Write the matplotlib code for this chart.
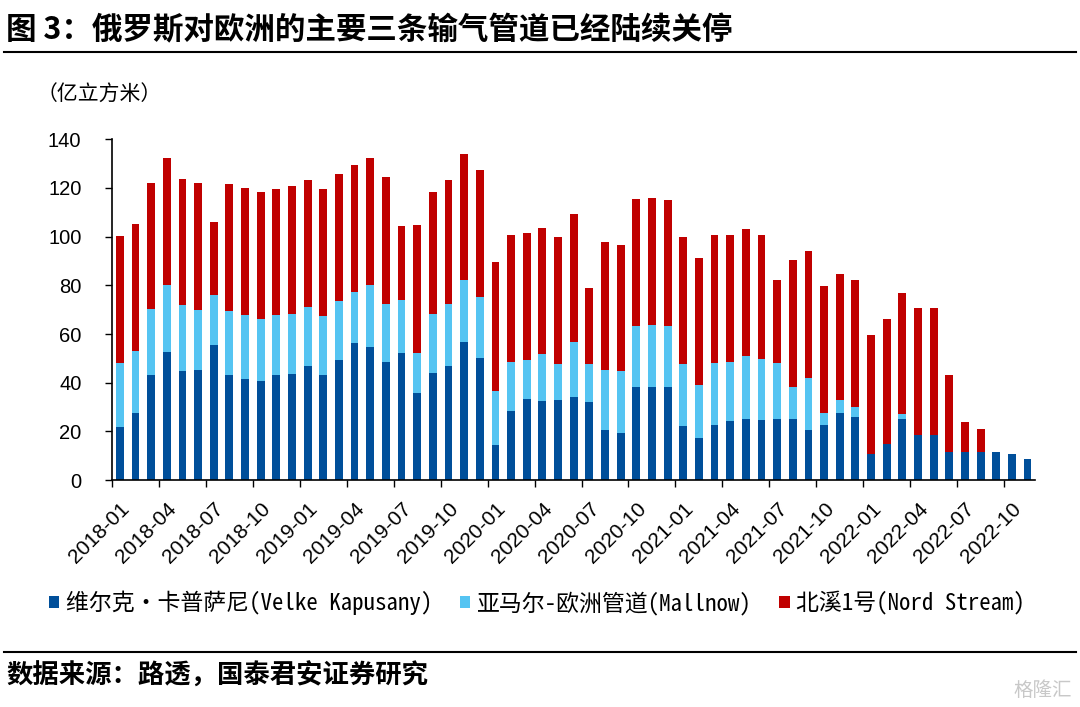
import matplotlib
matplotlib.use("Agg")
import matplotlib.pyplot as plt
import numpy as np

plt.rcParams['font.family'] = ['Liberation Sans', 'Noto Sans CJK SC', 'DejaVu Sans']

# monthly, 2018-01 .. 2022-11
months = []
for y in range(2018, 2023):
    for m in range(1, 13):
        months.append("%d-%02d" % (y, m))
months = months[:59]

# 亿立方米 (stacked segments)
velke = [21.6, 27.5, 43.2, 52.7, 44.7, 45.2, 55.3, 43.1, 41.5, 40.5, 43.0, 43.6,
         46.9, 43.1, 49.5, 56.2, 54.7, 48.7, 52.0, 35.7, 44.1, 46.9, 56.8, 50.0,
         14.4, 28.5, 33.1, 32.4, 32.8, 34.2, 32.0, 20.7, 19.2, 38.3, 38.2, 38.1,
         22.2, 17.2, 22.8, 24.4, 25.2, 24.5, 25.2, 24.9, 20.7, 22.6, 27.4, 26.1,
         10.8, 14.9, 25.2, 18.5, 18.7, 11.6, 11.6, 11.4, 11.4, 10.5, 8.5]
mallnow = [26.6, 25.5, 26.9, 27.3, 27.1, 24.7, 20.6, 26.3, 26.5, 25.6, 25.0, 24.5,
           24.0, 24.2, 24.1, 21.0, 25.3, 23.7, 22.0, 16.7, 24.0, 25.6, 25.4, 25.1,
           22.1, 20.1, 16.3, 19.2, 14.8, 22.7, 15.6, 24.7, 25.5, 24.8, 25.4, 25.0,
           25.3, 21.7, 25.4, 24.2, 25.8, 25.3, 22.7, 13.4, 21.2, 5.0, 5.3, 3.9,
           0, 0, 1.9, 0, 0, 0, 0, 0, 0, 0, 0]
nord = [52.1, 52.2, 52.0, 52.2, 52.0, 52.3, 30.0, 52.4, 52.0, 52.1, 51.5, 52.6,
        52.3, 52.2, 52.3, 52.4, 52.2, 52.3, 30.4, 52.3, 50.4, 50.7, 51.9, 52.2,
        52.9, 52.2, 51.9, 52.1, 52.3, 52.3, 31.4, 52.4, 51.8, 52.4, 52.3, 52.1,
        52.4, 52.4, 52.5, 52.2, 52.3, 51.0, 34.1, 52.3, 52.4, 52.2, 52.1, 52.0,
        48.7, 51.2, 49.9, 52.2, 52.0, 31.5, 12.1, 9.5, 0, 0, 0]

names = ['维尔克·卡普萨尼(Velke Kapusany)', '亚马尔-欧洲管道(Mallnow)', '北溪1号(Nord Stream)']
colors = ['#004F9A', '#55C4F2', '#C00000']

fig = plt.figure(figsize=(10.8, 7.07), dpi=100)
ax = fig.add_axes([0.1037, 0.321, 0.855, 0.482])

x = np.arange(len(months))
v = np.array(velke)
ml = np.array(mallnow)
ns = np.array(nord)
b1 = ax.bar(x, v, width=0.5, color=colors[0], label=names[0])
b2 = ax.bar(x, ml, width=0.5, bottom=v, color=colors[1], label=names[1])
b3 = ax.bar(x, ns, width=0.5, bottom=v + ml, color=colors[2], label=names[2])

ax.set_xlim(-0.5, len(months) - 0.5)
ax.set_ylim(0, 140)
ax.set_yticks(range(0, 141, 20))
ax.tick_params(axis='y', labelsize=14.5, length=5, width=1, pad=17)

lab_idx = list(range(0, len(months), 3))
ax.set_xticks(lab_idx)
ax.set_xticklabels([months[i] for i in lab_idx], rotation=45, ha='right',
                   va='top', rotation_mode='anchor', fontsize=15)
ax.tick_params(axis='x', which='major', length=0, pad=14)
ax.set_xticks([i - 0.5 for i in lab_idx], minor=True)
ax.tick_params(axis='x', which='minor', length=5, width=1)

for s in ['top', 'right']:
    ax.spines[s].set_visible(False)
ax.spines['left'].set_linewidth(1.2)
ax.spines['bottom'].set_linewidth(1.2)

cjk = ['Noto Sans CJK SC', 'DejaVu Sans']
mono = ['Noto Sans Mono CJK SC', 'Noto Sans CJK SC', 'DejaVu Sans']
fig.text(0.034, 1 - 95 / 707, '（亿立方米）', fontsize=15, family=mono, va='center', ha='left')

fig.text(0.006, 1 - 30 / 707, '图 3：俄罗斯对欧洲的主要三条输气管道已经陆续关停', fontsize=22,
         fontweight='bold', family=cjk, va='center', ha='left')
fig.add_artist(plt.Line2D([0.004, 0.996], [1 - 52 / 707] * 2, color='black', lw=1.5))
fig.add_artist(plt.Line2D([0.004, 0.996], [1 - 652 / 707] * 2, color='black', lw=1.5))
fig.text(0.006, 1 - 676 / 707, '数据来源：路透，国泰君安证券研究', fontsize=19,
         fontweight='bold', family=cjk, va='center', ha='left')
fig.text(0.993, 1 - 690 / 707, '格隆汇', fontsize=14, color='#c8c8c8', family=cjk,
         va='center', ha='right')

leg = fig.legend(handles=[b1, b2, b3], labels=names, loc='center left',
                 bbox_to_anchor=(0.045, 1 - 603 / 707), ncol=3, frameon=False,
                 handlelength=0.45, handleheight=0.45, handletextpad=0.3,
                 columnspacing=1.2, borderaxespad=0, borderpad=0,
                 prop={'family': mono, 'size': 16.5})

fig.savefig('out.png', dpi=100)
